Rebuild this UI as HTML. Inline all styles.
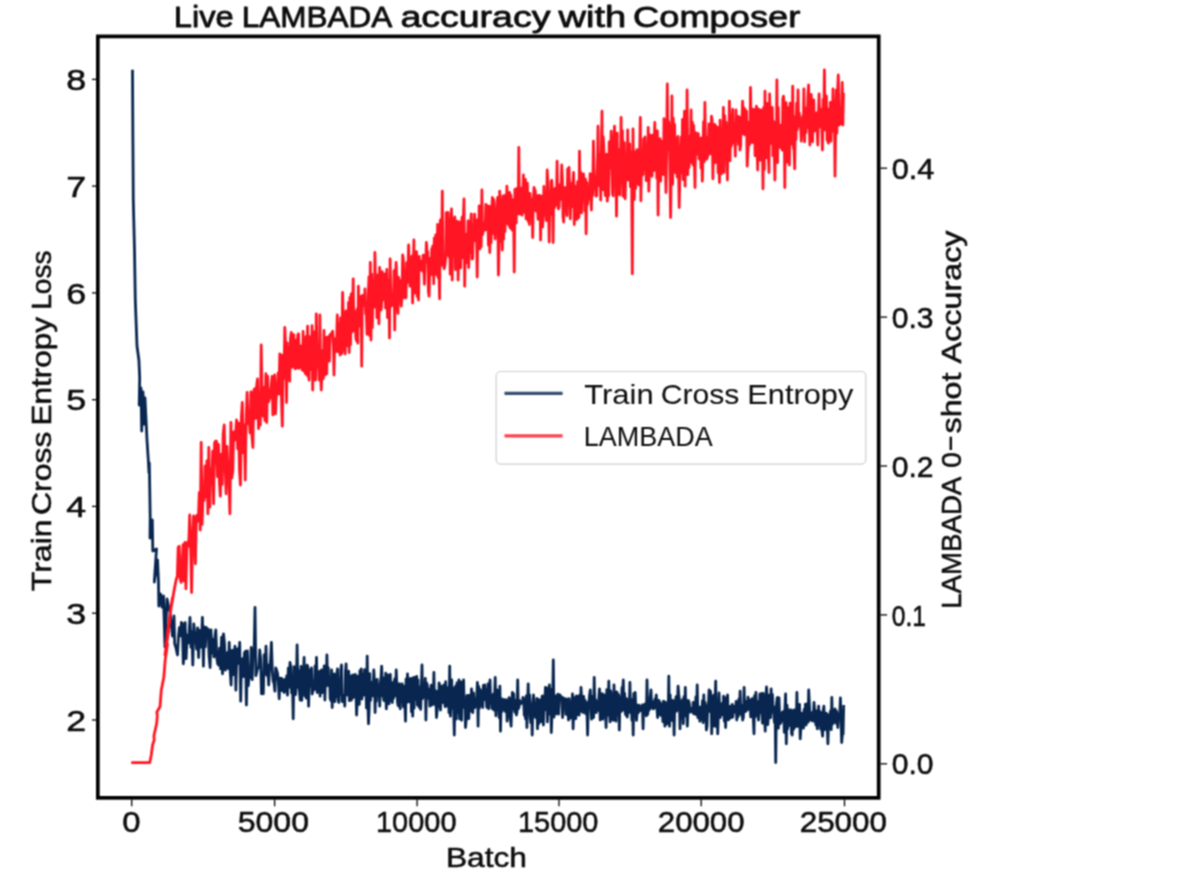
<!DOCTYPE html>
<html><head><meta charset="utf-8"><title>Live LAMBADA accuracy with Composer</title>
<style>
html,body{margin:0;padding:0;background:#fff;}
body{width:1200px;height:877px;overflow:hidden;font-family:"Liberation Sans",sans-serif;}
svg{display:block;}
text{font-family:"Liberation Sans",sans-serif;fill:#0d0d0d;stroke:#0d0d0d;stroke-width:0.55px;stroke-linejoin:round;}
</style></head><body>
<svg width="1200" height="877" viewBox="0 0 1200 877">
<defs><filter id="soft" x="0" y="0" width="1200" height="877" filterUnits="userSpaceOnUse" color-interpolation-filters="sRGB"><feConvolveMatrix order="3" kernelMatrix="1 2 1 2 4 2 1 2 1" divisor="16" edgeMode="duplicate" preserveAlpha="true"/></filter></defs>
<rect x="0" y="0" width="1200" height="877" fill="#ffffff"/>
<g filter="url(#soft)">
<rect x="0" y="0" width="1200" height="877" fill="#ffffff"/>

<g style="stroke-width:0.8px">
<text x="173.8" y="26.9" textLength="59.999999999999986" lengthAdjust="spacingAndGlyphs" font-size="29.3" style="stroke-width:0.8px">Live</text>
<text x="241.8" y="26.9" textLength="150.4" lengthAdjust="spacingAndGlyphs" font-size="29.3" style="stroke-width:0.8px">LAMBADA</text>
<text x="400.4" y="26.9" textLength="150.1" lengthAdjust="spacingAndGlyphs" font-size="29.3" style="stroke-width:0.8px">accuracy</text>
<text x="558.6" y="26.9" textLength="67.69999999999997" lengthAdjust="spacingAndGlyphs" font-size="29.3" style="stroke-width:0.8px">with</text>
<text x="633.0999999999999" y="26.9" textLength="167.2" lengthAdjust="spacingAndGlyphs" font-size="29.3" style="stroke-width:0.8px">Composer</text>
</g>
<clipPath id="ax"><rect x="98" y="37" width="781" height="761"/></clipPath>
<g clip-path="url(#ax)" fill="none" stroke-linejoin="round" stroke-linecap="butt">
<polyline id="blue" points="132.5,69.7 132.9,140.0 133.3,200.0 134.5,250.0 135.3,300.0 137.0,346.0 138.9,360.0 139.7,378.0 139.2,405.0 141.0,388.0 141.7,431.0 143.0,392.0 144.0,424.0 145.0,398.0 147.0,440.0 148.3,460.0 149.0,473.0 149.3,463.0 149.7,486.0 150.2,518.0 150.0,538.0 152.3,520.0 152.8,551.0 156.5,549.0 154.3,582.0 157.5,560.0 158.5,582.0 158.8,606.0 160.5,594.0 162.0,607.0 163.5,596.0 165.0,647.0 167.0,599.0 168.8,608.0 170.0,612.0 172.5,636.0 174.0,616.0 174.7,643.8 175.6,646.5 176.6,650.8 177.5,655.0 178.5,636.3 179.4,627.6 180.4,635.9 181.4,622.5 182.3,623.3 183.3,663.8 184.2,652.3 185.2,622.7 186.1,658.7 187.1,635.2 188.1,643.1 189.0,634.9 190.0,617.5 190.9,647.3 191.9,631.8 192.8,665.0 193.8,623.9 194.8,634.7 195.7,637.9 196.7,649.0 197.6,628.0 198.6,657.5 199.5,630.5 200.5,647.4 201.5,640.4 202.4,617.5 203.4,666.2 204.3,626.8 205.3,646.9 206.2,627.5 207.2,633.7 208.2,629.0 209.1,656.2 210.1,667.5 211.0,629.8 212.0,652.9 212.9,639.5 213.9,656.9 214.9,637.2 215.8,630.0 216.8,657.7 217.7,663.8 218.7,665.1 219.6,648.2 220.6,668.9 221.6,637.2 222.5,673.8 223.5,633.8 224.4,642.6 225.4,670.1 226.3,663.0 227.3,652.6 228.3,668.5 229.2,642.5 230.2,671.5 231.1,685.0 232.1,650.4 233.0,674.8 234.0,653.7 235.0,646.2 235.9,690.1 236.9,649.6 237.8,648.8 238.8,663.4 239.7,642.5 240.7,701.2 241.6,659.4 242.6,658.7 243.6,676.5 244.5,652.9 245.5,651.2 246.4,705.0 247.4,650.8 248.3,685.6 249.3,670.5 250.3,677.5 251.2,647.5 252.2,679.6 253.1,649.7 254.1,652.8 255.0,607.5 255.9,675.7 256.9,671.3 257.8,667.9 258.7,667.7 259.7,650.0 260.6,658.0 261.5,693.8 262.4,676.3 263.3,693.8 264.2,654.9 265.1,673.8 266.0,646.2 266.9,675.4 267.8,665.1 268.7,685.0 269.6,667.0 270.5,660.2 271.4,642.5 272.3,670.6 273.1,680.7 274.0,683.2 274.9,691.2 275.7,667.8 276.6,670.0 277.5,673.3 278.3,681.4 279.2,698.8 280.0,678.1 280.9,690.1 281.7,678.3 282.5,690.9 283.4,680.0 284.2,692.5 285.0,679.4 285.9,691.2 286.7,675.9 287.5,695.2 288.3,668.2 289.1,687.2 290.0,662.5 290.8,666.9 291.6,693.0 292.4,678.4 293.2,718.8 294.0,666.6 294.8,686.9 295.5,694.5 296.3,686.7 297.1,645.0 297.9,687.0 298.7,670.7 299.5,692.5 300.2,700.0 301.0,666.5 301.8,700.3 302.5,669.2 303.3,678.8 304.1,657.5 304.8,695.9 305.6,667.0 306.3,698.1 307.1,665.1 307.8,666.6 308.6,706.2 309.3,673.8 310.0,670.0 310.8,686.2 311.5,668.0 312.2,694.0 312.9,689.9 313.7,690.0 314.4,689.6 315.1,666.0 315.8,685.0 316.5,657.5 317.2,692.5 318.0,690.2 318.7,682.4 319.4,671.3 320.1,696.2 320.8,683.0 321.5,670.0 322.1,692.7 322.8,672.9 323.5,691.6 324.2,666.0 324.9,700.0 325.6,669.9 326.2,686.2 326.9,655.0 327.6,681.3 328.3,667.7 328.9,685.8 329.6,680.3 330.2,698.6 330.9,700.4 331.6,670.0 332.2,707.5 332.9,676.3 333.5,686.3 334.2,674.0 334.9,701.7 335.5,675.8 336.2,696.6 336.8,674.7 337.5,668.8 338.2,699.7 338.8,702.5 339.5,680.3 340.1,694.4 340.8,670.0 341.5,665.0 342.1,701.5 342.8,696.4 343.4,695.6 344.1,695.6 344.8,706.2 345.4,671.5 346.1,663.8 346.7,695.2 347.4,676.4 348.1,672.3 348.7,671.3 349.4,700.7 350.0,675.9 350.7,695.8 351.4,700.0 352.0,680.1 352.7,675.0 353.3,697.6 354.0,682.0 354.7,676.4 355.3,674.4 356.0,691.9 356.6,715.0 357.3,697.8 358.0,676.1 358.6,678.1 359.3,704.4 359.9,670.7 360.6,681.3 361.3,668.8 361.9,699.0 362.6,673.9 363.2,695.4 363.9,695.0 364.6,669.6 365.2,694.7 365.9,684.5 366.5,708.0 367.2,656.2 367.9,702.7 368.5,723.8 369.2,707.5 369.8,673.6 370.5,700.4 371.2,682.1 371.8,690.0 372.5,695.9 373.1,695.7 373.8,670.0 374.5,681.5 375.1,712.5 375.8,682.5 376.4,701.2 377.1,679.4 377.8,688.0 378.4,692.1 379.1,685.9 379.7,706.2 380.4,683.0 381.1,675.9 381.7,666.2 382.4,696.0 383.0,677.6 383.7,700.3 384.4,679.6 385.0,701.0 385.7,673.2 386.3,708.8 387.0,697.8 387.7,675.0 388.3,682.0 389.0,703.9 389.6,697.4 390.3,674.4 391.0,700.3 391.6,686.9 392.3,702.5 392.9,682.6 393.6,698.3 394.3,681.6 394.9,678.6 395.6,695.6 396.2,670.0 396.9,687.7 397.6,702.7 398.2,705.8 398.9,689.5 399.5,683.7 400.2,708.8 400.9,691.6 401.5,697.4 402.2,683.8 402.8,692.0 403.5,706.9 404.2,686.3 404.8,700.8 405.5,721.2 406.1,678.9 406.8,702.5 407.5,673.8 408.1,697.0 408.8,678.6 409.4,701.9 410.1,698.7 410.8,678.3 411.4,711.6 412.1,692.0 412.7,716.2 413.4,677.7 414.1,708.2 414.7,677.5 415.4,692.3 416.0,699.0 416.7,676.4 417.4,705.0 418.0,679.9 418.7,706.0 419.3,707.2 420.0,687.2 420.7,709.4 421.3,689.8 422.0,665.0 422.6,698.5 423.3,685.0 424.0,688.3 424.6,696.7 425.3,678.3 425.9,720.0 426.6,682.9 427.3,685.0 427.9,697.9 428.6,698.5 429.2,689.2 429.9,706.2 430.6,692.9 431.2,685.2 431.9,705.0 432.5,691.8 433.2,701.3 433.9,672.5 434.5,704.4 435.2,690.4 435.8,694.0 436.5,717.5 437.2,709.6 437.8,691.2 438.5,706.6 439.1,682.8 439.8,687.4 440.5,710.0 441.1,686.1 441.8,687.3 442.4,687.5 443.1,702.7 443.8,684.9 444.4,700.9 445.1,706.6 445.7,681.7 446.4,706.2 447.1,695.3 447.7,705.8 448.4,687.5 449.0,712.7 449.7,666.2 450.4,716.2 451.0,699.5 451.7,679.8 452.3,708.1 453.0,687.8 453.7,709.0 454.3,735.0 455.0,687.8 455.6,686.3 456.3,719.0 457.0,682.8 457.6,701.9 458.3,712.4 458.9,680.0 459.6,718.9 460.3,718.8 460.9,681.8 461.6,720.3 462.2,683.1 462.9,704.7 463.6,680.0 464.2,707.5 464.9,700.1 465.5,727.5 466.2,719.6 466.9,695.6 467.5,706.4 468.2,695.3 468.8,718.6 469.5,695.5 470.2,711.1 470.8,706.7 471.5,688.8 472.1,708.3 472.8,712.5 473.5,693.0 474.1,703.0 474.8,707.7 475.4,704.1 476.1,704.4 476.8,695.8 477.4,682.5 478.1,726.2 478.7,686.4 479.4,708.1 480.1,689.3 480.7,705.4 481.4,691.0 482.0,694.4 482.7,707.5 483.4,685.5 484.0,696.1 484.7,685.0 485.3,699.8 486.0,689.5 486.7,707.3 487.3,703.9 488.0,683.8 488.6,708.8 489.3,693.6 490.0,680.0 490.6,699.8 491.3,697.0 491.9,708.4 492.6,708.7 493.3,694.1 493.9,710.0 494.6,695.6 495.2,677.5 495.9,715.8 496.6,695.2 497.2,690.0 497.9,706.8 498.5,699.1 499.2,717.6 499.9,686.2 500.5,731.2 501.2,698.5 501.8,711.6 502.5,701.3 503.2,709.4 503.8,699.4 504.5,700.4 505.1,711.3 505.8,700.0 506.5,700.0 507.1,721.2 507.8,715.4 508.4,714.3 509.1,697.6 509.8,701.4 510.4,718.5 511.1,726.2 511.7,703.7 512.4,692.5 513.1,695.2 513.7,693.7 514.4,710.0 515.0,712.3 515.7,700.4 516.4,715.0 517.0,712.1 517.7,680.0 518.3,708.8 519.0,707.0 519.7,700.7 520.3,703.8 521.0,702.5 521.6,703.3 522.3,703.0 523.0,697.4 523.6,698.8 524.3,715.3 524.9,712.0 525.6,718.8 526.3,696.0 526.9,727.5 527.6,702.1 528.2,683.8 528.9,712.3 529.6,694.8 530.2,717.5 530.9,722.7 531.5,703.8 532.2,735.0 532.9,701.1 533.5,695.0 534.2,712.5 534.8,708.5 535.5,717.5 536.2,713.9 536.8,698.5 537.5,728.8 538.1,699.5 538.8,723.6 539.5,705.5 540.1,700.0 540.8,715.9 541.4,721.7 542.1,696.2 542.8,696.0 543.4,725.0 544.1,701.3 544.7,709.9 545.4,687.5 546.1,708.4 546.7,687.8 547.4,721.9 548.0,698.5 548.7,698.8 549.4,685.0 550.0,714.2 550.7,689.2 551.3,732.5 552.0,712.9 552.7,699.9 553.3,660.0 554.0,717.1 554.6,695.8 555.3,710.5 556.0,713.8 556.6,695.7 557.3,707.5 557.9,694.1 558.6,714.2 559.3,698.5 559.9,695.0 560.6,696.4 561.2,696.9 561.9,697.1 562.6,717.5 563.2,697.9 563.9,708.6 564.5,698.7 565.2,699.1 565.9,714.4 566.5,698.8 567.2,712.7 567.8,704.8 568.5,720.0 569.2,698.6 569.8,708.2 570.5,718.0 571.1,702.3 571.8,712.8 572.5,693.8 573.1,728.8 573.8,707.9 574.4,712.4 575.1,697.3 575.8,718.7 576.4,695.9 577.1,696.3 577.7,713.4 578.4,714.8 579.1,715.0 579.7,695.1 580.4,711.5 581.0,687.5 581.7,699.8 582.4,704.3 583.0,712.5 583.7,696.5 584.3,709.1 585.0,700.1 585.7,713.8 586.3,702.5 587.0,710.6 587.6,735.0 588.3,702.1 589.0,701.6 589.6,694.8 590.3,690.0 590.9,707.3 591.6,719.2 592.3,696.5 592.9,704.0 593.6,717.5 594.2,677.5 594.9,710.7 595.6,699.6 596.2,712.7 596.9,703.3 597.5,701.6 598.2,710.3 598.9,696.3 599.5,688.8 600.2,720.0 600.8,698.1 601.5,710.7 602.2,693.7 602.8,719.2 603.5,695.0 604.1,694.9 604.8,701.4 605.5,712.8 606.1,727.5 606.8,689.6 607.4,715.4 608.1,712.9 608.8,681.2 609.4,709.4 610.1,721.9 610.7,690.8 611.4,696.5 612.1,716.6 612.7,720.0 613.4,720.3 614.0,685.0 614.7,710.5 615.4,716.4 616.0,721.2 616.7,691.9 617.3,693.2 618.0,714.9 618.7,695.0 619.3,730.0 620.0,697.7 620.6,708.7 621.3,711.4 622.0,687.7 622.6,691.3 623.3,680.0 623.9,710.1 624.6,693.3 625.3,713.3 625.9,715.0 626.6,698.6 627.2,717.0 627.9,711.5 628.6,702.3 629.2,711.8 629.9,682.5 630.5,712.8 631.2,699.3 631.9,720.1 632.5,700.0 633.2,735.0 633.8,693.6 634.5,703.8 635.2,692.5 635.8,709.9 636.5,720.3 637.1,713.2 637.8,705.2 638.5,712.5 639.1,705.1 639.8,706.9 640.4,710.5 641.1,710.0 641.8,710.9 642.4,704.9 643.1,728.8 643.7,705.0 644.4,710.8 645.1,704.0 645.7,703.9 646.4,715.8 647.0,680.0 647.7,714.3 648.4,707.5 649.0,710.2 649.7,708.8 650.3,696.8 651.0,690.0 651.7,707.5 652.3,701.3 653.0,708.9 653.6,701.8 654.3,708.2 655.0,699.2 655.6,699.7 656.3,695.0 656.9,707.7 657.6,717.5 658.3,713.6 658.9,700.3 659.6,714.2 660.2,702.4 660.9,715.3 661.6,704.5 662.2,705.0 662.9,721.6 663.5,701.2 664.2,712.7 664.9,726.2 665.5,702.2 666.2,721.6 666.8,724.0 667.5,709.0 668.2,715.0 668.8,676.2 669.5,726.3 670.1,694.8 670.8,708.8 671.5,708.4 672.1,720.5 672.8,700.4 673.4,702.5 674.1,735.0 674.8,702.3 675.4,701.5 676.1,696.6 676.7,711.2 677.4,705.0 678.1,686.2 678.7,693.9 679.4,699.9 680.0,728.8 680.7,701.0 681.4,709.2 682.0,718.1 682.7,699.4 683.3,723.6 684.0,696.6 684.7,712.0 685.3,687.5 686.0,716.1 686.6,700.2 687.3,726.2 688.0,709.3 688.6,700.7 689.3,703.3 689.9,712.2 690.6,708.5 691.3,710.0 691.9,708.1 692.6,712.3 693.2,702.3 693.9,713.8 694.6,705.0 695.2,714.0 695.9,696.9 696.5,714.7 697.2,685.0 697.9,717.7 698.5,706.8 699.2,707.2 699.8,721.2 700.5,719.1 701.2,706.8 701.8,712.1 702.5,700.7 703.1,722.7 703.8,695.0 704.5,719.8 705.1,702.5 705.8,711.0 706.4,730.0 707.1,725.8 707.8,705.4 708.4,705.8 709.1,690.0 709.7,711.4 710.4,691.2 711.1,699.4 711.7,733.8 712.4,700.6 713.0,722.9 713.7,695.2 714.4,726.2 715.0,703.3 715.7,681.2 716.3,726.4 717.0,700.8 717.7,733.8 718.3,714.3 719.0,693.0 719.6,705.5 720.3,717.5 721.0,705.5 721.6,704.4 722.3,703.2 722.9,714.9 723.6,696.2 724.3,721.1 724.9,697.7 725.6,727.5 726.2,703.8 726.9,701.1 727.6,695.0 728.2,719.9 728.9,719.2 729.5,718.2 730.2,706.5 730.9,711.0 731.5,717.5 732.2,704.4 732.8,717.2 733.5,706.2 734.2,712.3 734.8,711.2 735.5,711.8 736.1,701.5 736.8,720.0 737.5,704.4 738.1,716.7 738.8,699.2 739.4,709.5 740.1,691.2 740.8,714.4 741.4,705.4 742.1,714.2 742.7,720.0 743.4,717.2 744.1,687.5 744.7,711.3 745.4,711.6 746.0,701.7 746.7,708.7 747.4,710.0 748.0,697.1 748.7,708.8 749.3,702.6 750.0,700.0 750.7,716.9 751.3,704.9 752.0,698.6 752.6,703.2 753.3,718.3 754.0,733.8 754.6,695.6 755.3,716.9 755.9,692.5 756.6,715.3 757.3,701.3 757.9,713.3 758.6,720.0 759.2,713.0 759.9,693.8 760.6,712.5 761.2,700.0 761.9,693.5 762.5,723.2 763.2,693.4 763.9,712.2 764.5,713.6 765.2,731.2 765.8,700.2 766.5,687.0 767.2,699.8 767.8,724.6 768.5,713.6 769.1,695.2 769.8,702.8 770.5,717.7 771.1,688.8 771.8,703.6 772.4,694.4 773.1,712.2 773.8,713.8 774.4,722.3 775.1,706.9 775.7,762.5 776.4,704.7 777.1,697.9 777.7,697.5 778.4,728.2 779.0,697.8 779.7,718.7 780.4,723.5 781.0,720.0 781.7,721.3 782.3,712.3 783.0,719.2 783.7,711.1 784.3,732.3 785.0,707.5 785.6,693.8 786.3,743.8 787.0,705.2 787.6,729.0 788.3,709.5 788.9,725.7 789.6,712.3 790.3,721.4 790.9,710.0 791.6,733.7 792.2,735.0 792.9,710.7 793.6,729.3 794.2,710.0 794.9,727.3 795.5,713.4 796.2,725.9 796.9,692.5 797.5,726.5 798.2,710.9 798.8,724.5 799.5,704.4 800.2,738.8 800.8,729.7 801.5,713.1 802.1,724.7 802.8,715.0 803.5,728.2 804.1,709.5 804.8,722.7 805.4,704.2 806.1,725.0 806.8,713.0 807.4,703.6 808.1,722.2 808.7,690.0 809.4,704.6 810.1,720.2 810.7,713.0 811.4,720.0 812.0,712.6 812.7,721.0 813.4,713.3 814.0,702.5 814.7,710.7 815.3,721.1 816.0,725.1 816.7,710.8 817.3,728.8 818.0,721.8 818.6,706.2 819.3,721.8 820.0,711.4 820.6,729.0 821.3,712.7 821.9,730.1 822.6,736.2 823.3,710.2 823.9,706.2 824.6,729.8 825.2,712.8 825.9,720.5 826.6,713.5 827.2,724.8 827.9,743.8 828.5,724.2 829.2,714.7 829.9,720.8 830.5,711.0 831.2,729.6 831.8,697.5 832.5,724.1 833.2,721.4 833.8,720.0 834.5,710.2 835.1,708.9 835.8,723.1 836.5,711.2 837.1,717.0 837.8,727.5 838.4,716.6 839.1,714.2 839.8,712.4 840.4,698.0 841.1,722.7 841.7,742.5 842.4,733.6 843.1,733.9 843.7,705.0" stroke="#08264f" stroke-width="2.8"/>
<polyline id="red" points="131.2,762.7 149.7,762.7 151.3,755.0 152.6,745.0 154.2,740.0 153.9,736.0 156.7,723.3 157.3,716.0 156.9,712.0 160.0,706.7 161.3,690.0 163.8,677.5 165.2,660.0 167.5,644.0 164.9,655.0 168.6,631.0 165.9,645.0 170.0,619.0 167.2,634.0 171.2,607.0 168.8,622.0 172.4,598.0 170.6,611.0 174.0,591.0 175.5,583.0 176.6,578.0 177.3,576.9 178.2,547.2 179.2,546.2 180.1,578.3 181.1,582.5 182.0,569.9 183.0,544.7 184.0,581.0 184.9,542.5 185.9,588.8 186.8,549.1 187.8,541.7 188.7,545.9 189.7,515.0 190.7,552.1 191.6,592.5 192.6,540.5 193.5,516.0 194.5,534.5 195.4,563.8 196.4,516.0 197.4,515.0 198.3,521.0 199.3,492.4 200.2,530.0 201.2,442.5 202.1,524.4 203.1,490.3 204.1,500.4 205.0,466.1 206.0,496.8 206.9,460.9 207.9,513.8 208.8,447.5 209.8,507.2 210.8,468.8 211.7,480.8 212.7,451.2 213.6,503.8 214.6,443.0 215.5,441.2 216.5,441.2 217.5,476.7 218.4,444.4 219.4,482.1 220.3,496.2 221.3,454.2 222.2,484.4 223.2,434.0 224.2,425.0 225.1,464.4 226.1,493.8 227.0,446.3 228.0,471.2 228.9,477.5 229.9,513.8 230.9,422.5 231.8,477.9 232.8,470.8 233.7,431.9 234.7,440.0 235.6,432.9 236.6,420.0 237.6,448.8 238.5,422.9 239.5,470.6 240.4,485.0 241.4,417.0 242.3,402.5 243.3,452.7 244.2,424.9 245.2,480.0 246.2,416.9 247.1,392.5 248.1,423.5 249.0,413.6 250.0,432.8 250.9,391.8 251.9,435.6 252.9,447.5 253.8,390.4 254.7,388.8 255.7,418.4 256.6,386.5 257.5,378.8 258.5,428.6 259.4,393.0 260.3,425.0 261.2,345.0 262.2,404.4 263.1,416.2 264.0,387.5 264.9,420.4 265.8,373.7 266.7,422.5 267.6,376.2 268.5,401.9 269.4,398.7 270.2,396.6 271.1,388.0 272.0,376.5 272.9,414.9 273.8,387.0 274.6,375.0 275.5,413.8 276.4,393.1 277.2,390.9 278.1,372.8 278.9,394.1 279.8,353.8 280.6,354.8 281.5,399.5 282.3,426.2 283.1,354.9 284.0,378.0 284.8,327.5 285.6,345.4 286.5,402.5 287.3,342.8 288.1,361.8 288.9,352.6 289.7,381.2 290.5,337.9 291.3,332.5 292.1,367.3 292.9,355.4 293.7,334.7 294.5,365.5 295.3,368.8 296.1,340.1 296.9,368.0 297.7,334.8 298.5,333.8 299.2,368.4 300.0,363.5 300.8,346.0 301.6,361.1 302.3,370.0 303.1,331.5 303.8,371.1 304.6,346.0 305.4,373.6 306.1,336.4 306.9,375.2 307.6,326.2 308.3,374.5 309.1,380.0 309.8,336.7 310.6,355.0 311.3,369.3 312.0,325.6 312.7,390.0 313.5,336.8 314.2,379.9 314.9,331.4 315.6,380.0 316.3,313.8 317.0,360.7 317.8,345.2 318.5,365.1 319.2,380.0 319.9,315.0 320.6,376.0 321.3,390.0 321.9,372.1 322.6,350.5 323.3,378.7 324.0,330.4 324.7,375.0 325.4,370.0 326.1,337.5 326.7,374.0 327.4,337.4 328.1,336.7 328.7,345.2 329.4,361.2 330.1,334.7 330.7,334.0 331.4,335.7 332.0,332.7 332.7,331.2 333.4,346.9 334.0,375.0 334.7,338.9 335.3,351.8 336.0,346.2 336.7,338.0 337.3,315.0 338.0,351.7 338.6,323.6 339.3,342.0 340.0,355.0 340.6,317.8 341.3,351.1 341.9,353.5 342.6,292.5 343.3,323.8 343.9,316.4 344.6,349.3 345.2,353.8 345.9,311.0 346.6,330.2 347.2,316.8 347.9,346.0 348.5,302.5 349.2,352.5 349.9,297.3 350.5,344.7 351.2,294.0 351.8,332.1 352.5,314.3 353.2,278.8 353.8,323.1 354.5,331.2 355.1,311.7 355.8,337.5 356.5,340.6 357.1,309.0 357.8,343.2 358.4,286.2 359.1,326.1 359.8,308.1 360.4,323.0 361.1,296.3 361.7,366.2 362.4,295.3 363.1,297.3 363.7,295.8 364.4,305.3 365.0,288.8 365.7,313.6 366.4,314.9 367.0,334.3 367.7,332.5 368.3,294.0 369.0,276.6 369.7,335.8 370.3,262.5 371.0,340.0 371.6,274.1 372.3,327.5 373.0,282.5 373.6,306.5 374.3,307.1 374.9,252.5 375.6,287.2 376.3,288.4 376.9,317.6 377.6,299.0 378.2,274.6 378.9,323.8 379.6,267.5 380.2,283.3 380.9,310.1 381.5,307.4 382.2,271.6 382.9,300.1 383.5,296.2 384.2,298.4 384.8,273.8 385.5,308.0 386.2,297.9 386.8,269.3 387.5,317.5 388.1,279.6 388.8,282.8 389.5,338.0 390.1,258.8 390.8,296.0 391.4,306.0 392.1,297.6 392.8,305.1 393.4,301.9 394.1,270.7 394.7,330.0 395.4,276.8 396.1,262.5 396.7,279.3 397.4,302.2 398.0,313.4 398.7,277.5 399.4,291.9 400.0,280.5 400.7,297.7 401.3,306.2 402.0,293.1 402.7,255.0 403.3,259.0 404.0,284.7 404.6,298.1 405.3,271.2 406.0,297.5 406.6,262.6 407.3,282.4 407.9,274.4 408.6,245.0 409.3,265.4 409.9,286.3 410.6,267.4 411.2,284.1 411.9,256.2 412.6,303.0 413.2,272.1 413.9,240.0 414.5,293.1 415.2,256.4 415.9,286.1 416.5,251.7 417.2,296.5 417.8,260.1 418.5,300.0 419.2,256.3 419.8,269.8 420.5,261.4 421.1,261.2 421.8,269.1 422.5,271.0 423.1,255.2 423.8,268.2 424.4,284.3 425.1,255.2 425.8,262.2 426.4,242.5 427.1,253.2 427.7,251.5 428.4,291.0 429.1,296.2 429.7,272.5 430.4,258.2 431.0,274.7 431.7,249.3 432.4,247.5 433.0,245.6 433.7,283.8 434.3,238.1 435.0,273.9 435.7,235.0 436.3,250.3 437.0,275.3 437.6,224.3 438.3,278.1 439.0,271.0 439.6,298.8 440.3,220.4 440.9,219.6 441.6,265.2 442.3,191.2 442.9,264.6 443.6,265.4 444.2,268.7 444.9,265.0 445.6,258.6 446.2,212.6 446.9,254.7 447.5,225.4 448.2,212.3 448.9,257.1 449.5,227.6 450.2,274.2 450.8,227.2 451.5,208.8 452.2,280.0 452.8,218.4 453.5,248.1 454.1,255.0 454.8,216.9 455.5,269.6 456.1,234.1 456.8,229.9 457.4,221.2 458.1,280.0 458.8,249.4 459.4,235.3 460.1,222.0 460.7,267.9 461.4,228.9 462.1,217.1 462.7,257.6 463.4,217.4 464.0,198.8 464.7,286.2 465.4,234.0 466.0,234.4 466.7,257.7 467.3,262.6 468.0,220.9 468.7,267.5 469.3,227.5 470.0,252.4 470.6,222.9 471.3,213.8 472.0,259.0 472.6,258.8 473.3,227.2 473.9,241.2 474.6,214.2 475.3,240.0 475.9,220.0 476.6,239.9 477.2,277.0 477.9,219.3 478.6,242.0 479.2,205.8 479.9,248.9 480.5,224.0 481.2,246.7 481.9,190.0 482.5,234.7 483.2,231.0 483.8,227.5 484.5,223.0 485.2,230.2 485.8,204.5 486.5,205.0 487.1,229.5 487.8,216.4 488.5,245.3 489.1,206.1 489.8,252.5 490.4,217.3 491.1,242.8 491.8,208.9 492.4,197.5 493.1,233.4 493.7,199.5 494.4,216.3 495.1,238.9 495.7,215.2 496.4,229.0 497.0,203.3 497.7,197.3 498.4,275.0 499.0,246.4 499.7,191.2 500.3,203.2 501.0,241.7 501.7,211.4 502.3,250.0 503.0,196.0 503.6,239.1 504.3,213.6 505.0,231.5 505.6,194.9 506.3,223.7 506.9,186.2 507.6,217.5 508.3,199.7 508.9,225.5 509.6,192.5 510.2,228.1 510.9,195.2 511.6,218.3 512.2,230.2 512.9,199.7 513.5,200.0 514.2,272.0 514.9,189.3 515.5,198.7 516.2,223.1 516.8,188.4 517.5,190.7 518.2,213.8 518.8,147.5 519.5,213.6 520.1,214.0 520.8,208.0 521.5,188.2 522.1,215.2 522.8,199.4 523.4,175.0 524.1,208.8 524.8,212.5 525.4,179.5 526.1,218.8 526.7,188.4 527.4,183.1 528.1,221.1 528.7,200.0 529.4,224.5 530.0,193.5 530.7,213.1 531.4,213.9 532.0,199.4 532.7,237.5 533.3,201.4 534.0,187.5 534.7,189.6 535.3,191.4 536.0,211.0 536.6,195.4 537.3,201.4 538.0,219.3 538.6,195.4 539.3,216.9 539.9,195.7 540.6,240.0 541.3,196.2 541.9,221.9 542.6,226.9 543.2,218.9 543.9,186.5 544.6,215.3 545.2,213.8 545.9,200.6 546.5,220.5 547.2,170.0 547.9,181.6 548.5,207.6 549.2,242.0 549.8,198.3 550.5,214.3 551.2,181.2 551.8,180.3 552.5,194.3 553.1,242.5 553.8,189.7 554.5,207.8 555.1,188.4 555.8,203.2 556.4,204.7 557.1,161.2 557.8,203.5 558.4,208.8 559.1,206.7 559.7,184.9 560.4,199.4 561.1,189.4 561.7,165.0 562.4,179.3 563.0,216.8 563.7,222.0 564.4,187.7 565.0,202.9 565.7,187.7 566.3,203.4 567.0,215.6 567.7,168.8 568.3,205.2 569.0,167.5 569.6,189.1 570.3,218.8 571.0,186.5 571.6,206.9 572.3,182.7 572.9,182.4 573.6,172.5 574.3,224.5 574.9,186.0 575.6,203.0 576.2,189.3 576.9,219.5 577.6,181.6 578.2,188.5 578.9,217.5 579.5,151.2 580.2,211.4 580.9,172.4 581.5,212.9 582.2,180.0 582.8,198.0 583.5,173.8 584.2,184.3 584.8,211.2 585.5,179.1 586.1,233.8 586.8,182.4 587.5,204.4 588.1,197.4 588.8,186.2 589.4,197.3 590.1,173.7 590.8,199.5 591.4,210.0 592.1,174.3 592.7,195.4 593.4,141.2 594.1,168.7 594.7,189.2 595.4,183.3 596.0,196.2 596.7,195.6 597.4,166.7 598.0,126.2 598.7,185.4 599.3,154.4 600.0,163.9 600.7,200.0 601.3,152.9 602.0,111.2 602.6,189.7 603.3,137.0 604.0,151.4 604.6,185.2 605.3,195.5 605.9,155.0 606.6,154.3 607.3,201.2 607.9,190.2 608.6,195.5 609.2,141.8 609.9,168.3 610.6,153.3 611.2,131.2 611.9,168.8 612.5,193.8 613.2,195.9 613.9,142.6 614.5,126.2 615.2,175.7 615.8,159.7 616.5,216.2 617.2,133.1 617.8,193.8 618.5,149.4 619.1,174.2 619.8,195.0 620.5,171.1 621.1,117.5 621.8,180.6 622.4,130.7 623.1,196.3 623.8,178.4 624.4,142.7 625.1,198.8 625.7,178.0 626.4,157.4 627.1,180.0 627.7,130.0 628.4,170.0 629.0,180.0 629.7,143.9 630.4,186.7 631.0,152.2 631.7,185.9 632.3,273.8 633.0,128.8 633.7,190.6 634.3,199.5 635.0,151.8 635.6,188.5 636.3,180.0 637.0,149.6 637.6,182.2 638.3,180.3 638.9,184.9 639.6,155.7 640.3,117.5 640.9,200.8 641.6,153.0 642.2,171.9 642.9,174.7 643.6,138.8 644.2,148.0 644.9,136.8 645.5,160.3 646.2,180.7 646.9,152.0 647.5,172.1 648.2,127.5 648.8,191.2 649.5,168.5 650.2,134.9 650.8,175.6 651.5,172.0 652.1,176.2 652.8,135.1 653.5,170.8 654.1,147.7 654.8,122.5 655.4,170.0 656.1,130.6 656.8,178.2 657.4,130.8 658.1,215.0 658.7,146.5 659.4,171.0 660.1,138.7 660.7,181.0 661.4,141.2 662.0,160.9 662.7,144.9 663.4,174.5 664.0,118.6 664.7,124.9 665.3,160.9 666.0,192.5 666.7,145.7 667.3,84.0 668.0,149.6 668.6,121.6 669.3,132.9 670.0,175.7 670.6,217.5 671.3,166.2 671.9,96.0 672.6,184.3 673.3,118.2 673.9,165.5 674.6,124.5 675.2,172.5 675.9,138.5 676.6,141.2 677.2,177.1 677.9,136.3 678.5,163.0 679.2,207.5 679.9,174.5 680.5,162.7 681.2,137.0 681.8,173.0 682.5,119.5 683.2,179.7 683.8,144.6 684.5,111.2 685.1,186.2 685.8,142.6 686.5,161.0 687.1,90.0 687.8,174.7 688.4,139.7 689.1,167.4 689.8,135.9 690.4,155.2 691.1,110.0 691.7,162.5 692.4,122.1 693.1,164.9 693.7,125.5 694.4,160.9 695.0,187.5 695.7,132.7 696.4,154.4 697.0,135.2 697.7,136.2 698.3,133.5 699.0,159.0 699.7,139.4 700.3,138.6 701.0,168.1 701.6,137.9 702.3,181.2 703.0,152.6 703.6,121.6 704.3,161.7 704.9,102.5 705.6,150.1 706.3,137.2 706.9,159.1 707.6,156.0 708.2,155.0 708.9,123.8 709.6,138.0 710.2,142.2 710.9,153.9 711.5,116.2 712.2,120.6 712.9,178.8 713.5,139.9 714.2,151.9 714.8,124.5 715.5,162.5 716.2,126.4 716.8,161.3 717.5,127.5 718.1,172.7 718.8,162.3 719.5,182.5 720.1,120.1 720.8,152.0 721.4,173.9 722.1,136.3 722.8,153.3 723.4,107.5 724.1,172.4 724.7,115.6 725.4,152.7 726.1,122.1 726.7,136.8 727.4,180.0 728.0,135.6 728.7,151.3 729.4,101.2 730.0,160.8 730.7,127.8 731.3,146.0 732.0,122.3 732.7,109.2 733.3,143.0 734.0,124.0 734.6,130.4 735.3,156.2 736.0,110.0 736.6,141.0 737.3,124.9 737.9,116.5 738.6,144.4 739.3,116.8 739.9,150.0 740.6,145.5 741.2,121.8 741.9,123.6 742.6,101.2 743.2,133.6 743.9,107.7 744.5,134.8 745.2,109.5 745.9,126.0 746.5,111.2 747.2,166.2 747.8,153.2 748.5,143.6 749.2,121.9 749.8,144.4 750.5,87.5 751.1,136.2 751.8,108.6 752.5,142.5 753.1,126.2 753.8,137.0 754.4,109.4 755.1,155.8 755.8,121.2 756.4,106.2 757.1,148.6 757.7,170.0 758.4,108.9 759.1,148.0 759.7,128.4 760.4,160.3 761.0,110.0 761.7,113.0 762.4,145.7 763.0,188.8 763.7,107.5 764.3,169.6 765.0,91.2 765.7,142.3 766.3,157.6 767.0,103.5 767.6,142.9 768.3,156.9 769.0,172.5 769.6,93.8 770.3,123.5 770.9,143.4 771.6,112.5 772.3,107.5 772.9,155.7 773.6,121.5 774.2,149.0 774.9,180.0 775.6,123.0 776.2,160.4 776.9,80.0 777.5,162.5 778.2,107.3 778.9,146.9 779.5,137.3 780.2,147.5 780.8,125.2 781.5,140.3 782.2,150.0 782.8,99.0 783.5,96.2 784.1,102.8 784.8,187.5 785.5,121.5 786.1,102.6 786.8,148.9 787.4,162.1 788.1,116.3 788.8,107.5 789.4,165.0 790.1,103.1 790.7,144.5 791.4,119.3 792.1,143.5 792.7,86.2 793.4,148.0 794.0,149.9 794.7,168.8 795.4,116.6 796.0,139.4 796.7,103.1 797.3,129.6 798.0,90.0 798.7,126.2 799.3,113.1 800.0,124.7 800.6,127.3 801.3,141.2 802.0,129.5 802.6,116.4 803.3,130.0 803.9,88.8 804.6,141.7 805.3,111.6 805.9,132.7 806.6,108.0 807.2,127.3 807.9,94.8 808.6,85.0 809.2,126.4 809.9,145.0 810.5,94.9 811.2,94.4 811.9,109.9 812.5,141.6 813.2,111.4 813.8,100.0 814.5,131.0 815.2,119.9 815.8,127.7 816.5,113.0 817.1,129.1 817.8,145.0 818.5,112.4 819.1,93.8 819.8,126.9 820.4,109.1 821.1,124.0 821.8,125.6 822.4,150.0 823.1,99.5 823.7,125.5 824.4,70.0 825.1,129.9 825.7,100.1 826.4,95.8 827.0,139.9 827.7,140.0 828.4,143.2 829.0,108.8 829.7,140.1 830.3,102.3 831.0,141.1 831.7,111.4 832.3,131.0 833.0,88.8 833.6,118.6 834.3,101.0 835.0,176.2 835.6,132.7 836.3,90.1 836.9,133.2 837.6,90.8 838.3,75.0 838.9,125.0 839.6,110.3 840.2,124.0 840.9,124.0 841.6,104.9 842.2,82.5 842.9,125.0 843.5,92.6" stroke="#ff1523" stroke-width="2.8"/>
</g>
<rect x="496.2" y="371.5" width="369.6" height="92.6" rx="4.5" ry="4.5" fill="#ffffff" fill-opacity="0.8" stroke="#cfcfcf" stroke-width="1.2"/>
<line x1="504.5" y1="393.4" x2="562.6" y2="393.4" stroke="#08264f" stroke-opacity="0.82" stroke-width="3.2"/>
<line x1="504.5" y1="435.8" x2="562.6" y2="435.8" stroke="#ff1523" stroke-opacity="0.82" stroke-width="3.2"/>
<text x="584.3" y="404" textLength="69.40000000000009" lengthAdjust="spacingAndGlyphs" font-size="27.2" style="stroke-width:0.05px">Train</text>
<text x="660.7" y="404" textLength="78.59999999999991" lengthAdjust="spacingAndGlyphs" font-size="27.2" style="stroke-width:0.05px">Cross</text>
<text x="747.3" y="404" textLength="106.0" lengthAdjust="spacingAndGlyphs" font-size="27.2" style="stroke-width:0.05px">Entropy</text>
<text x="583.8" y="445.6" textLength="128.9" lengthAdjust="spacingAndGlyphs" font-size="27.2" style="stroke-width:0.05px">LAMBADA</text>
<rect x="97.85" y="36.4" width="780.85" height="761.45" fill="none" stroke="#000" stroke-width="3.7"/>
<line x1="131.7" y1="799.6" x2="131.7" y2="806.3" stroke="#000" stroke-width="1.3"/>
<text x="122.2" y="832.3" textLength="18.299999999999997" lengthAdjust="spacingAndGlyphs" font-size="29.6" >0</text>
<line x1="274.6" y1="799.6" x2="274.6" y2="806.3" stroke="#000" stroke-width="1.3"/>
<text x="237.7" y="832.3" textLength="71.30000000000001" lengthAdjust="spacingAndGlyphs" font-size="29.6" >5000</text>
<line x1="417.1" y1="799.6" x2="417.1" y2="806.3" stroke="#000" stroke-width="1.3"/>
<text x="376.0" y="832.3" textLength="80.5" lengthAdjust="spacingAndGlyphs" font-size="29.6" >10000</text>
<line x1="559.0" y1="799.6" x2="559.0" y2="806.3" stroke="#000" stroke-width="1.3"/>
<text x="518.0" y="832.3" textLength="80.39999999999998" lengthAdjust="spacingAndGlyphs" font-size="29.6" >15000</text>
<line x1="701.2" y1="799.6" x2="701.2" y2="806.3" stroke="#000" stroke-width="1.3"/>
<text x="657.8" y="832.3" textLength="86.80000000000007" lengthAdjust="spacingAndGlyphs" font-size="29.6" >20000</text>
<line x1="844.5" y1="799.6" x2="844.5" y2="806.3" stroke="#000" stroke-width="1.3"/>
<text x="799.7" y="832.3" textLength="87.29999999999995" lengthAdjust="spacingAndGlyphs" font-size="29.6" >25000</text>
<line x1="92" y1="79.4" x2="96.1" y2="79.4" stroke="#000" stroke-width="1.3"/>
<text x="66.3" y="90.0" textLength="19.9" lengthAdjust="spacingAndGlyphs" font-size="29.6" >8</text>
<line x1="92" y1="186.1" x2="96.1" y2="186.1" stroke="#000" stroke-width="1.3"/>
<text x="66.3" y="196.7" textLength="19.9" lengthAdjust="spacingAndGlyphs" font-size="29.6" >7</text>
<line x1="92" y1="292.9" x2="96.1" y2="292.9" stroke="#000" stroke-width="1.3"/>
<text x="66.3" y="303.5" textLength="19.9" lengthAdjust="spacingAndGlyphs" font-size="29.6" >6</text>
<line x1="92" y1="399.7" x2="96.1" y2="399.7" stroke="#000" stroke-width="1.3"/>
<text x="66.3" y="410.3" textLength="19.9" lengthAdjust="spacingAndGlyphs" font-size="29.6" >5</text>
<line x1="92" y1="506.4" x2="96.1" y2="506.4" stroke="#000" stroke-width="1.3"/>
<text x="66.3" y="517.0" textLength="19.9" lengthAdjust="spacingAndGlyphs" font-size="29.6" >4</text>
<line x1="92" y1="613.2" x2="96.1" y2="613.2" stroke="#000" stroke-width="1.3"/>
<text x="66.3" y="623.8000000000001" textLength="19.9" lengthAdjust="spacingAndGlyphs" font-size="29.6" >3</text>
<line x1="92" y1="720.0" x2="96.1" y2="720.0" stroke="#000" stroke-width="1.3"/>
<text x="66.3" y="730.6" textLength="19.9" lengthAdjust="spacingAndGlyphs" font-size="29.6" >2</text>
<line x1="880.4" y1="763.8" x2="887.1" y2="763.8" stroke="#000" stroke-width="1.3"/>
<text x="891.7" y="774.4" textLength="41.799999999999955" lengthAdjust="spacingAndGlyphs" font-size="29.6" >0.0</text>
<line x1="880.4" y1="614.9" x2="887.1" y2="614.9" stroke="#000" stroke-width="1.3"/>
<text x="891.7" y="625.5" textLength="34.299999999999955" lengthAdjust="spacingAndGlyphs" font-size="29.6" >0.1</text>
<line x1="880.4" y1="466.0" x2="887.1" y2="466.0" stroke="#000" stroke-width="1.3"/>
<text x="891.7" y="476.6" textLength="41.799999999999955" lengthAdjust="spacingAndGlyphs" font-size="29.6" >0.2</text>
<line x1="880.4" y1="317.1" x2="887.1" y2="317.1" stroke="#000" stroke-width="1.3"/>
<text x="891.7" y="327.70000000000005" textLength="41.799999999999955" lengthAdjust="spacingAndGlyphs" font-size="29.6" >0.3</text>
<line x1="880.4" y1="168.2" x2="887.1" y2="168.2" stroke="#000" stroke-width="1.3"/>
<text x="891.7" y="178.79999999999998" textLength="42.59999999999991" lengthAdjust="spacingAndGlyphs" font-size="29.6" >0.4</text>
<text x="446" y="867" textLength="81" lengthAdjust="spacingAndGlyphs" font-size="28" >Batch</text>
<g transform="translate(50.5,591.6) rotate(-90)"><text x="0.4" y="0" textLength="71.8" lengthAdjust="spacingAndGlyphs" font-size="28" >Train</text><text x="76.6" y="0" textLength="83.4" lengthAdjust="spacingAndGlyphs" font-size="28" >Cross</text><text x="166.0" y="0" textLength="108.7" lengthAdjust="spacingAndGlyphs" font-size="28" >Entropy</text><text x="281.8" y="0" textLength="59.3" lengthAdjust="spacingAndGlyphs" font-size="28" >Loss</text></g>
<g transform="translate(961,607.8) rotate(-90)"><text x="-1.0" y="0" textLength="132.1" lengthAdjust="spacingAndGlyphs" font-size="28" >LAMBADA</text><text x="140.1" y="0" textLength="15.7" lengthAdjust="spacingAndGlyphs" font-size="28" >0</text><text x="174.3" y="0" textLength="61.0" lengthAdjust="spacingAndGlyphs" font-size="28" >shot</text><text x="244.4" y="0" textLength="132.9" lengthAdjust="spacingAndGlyphs" font-size="28" >Accuracy</text><line x1="157.8" y1="-10.2" x2="171.1" y2="-10.2" stroke="#0d0d0d" stroke-width="2.5"/></g>
</g></svg></body></html>
